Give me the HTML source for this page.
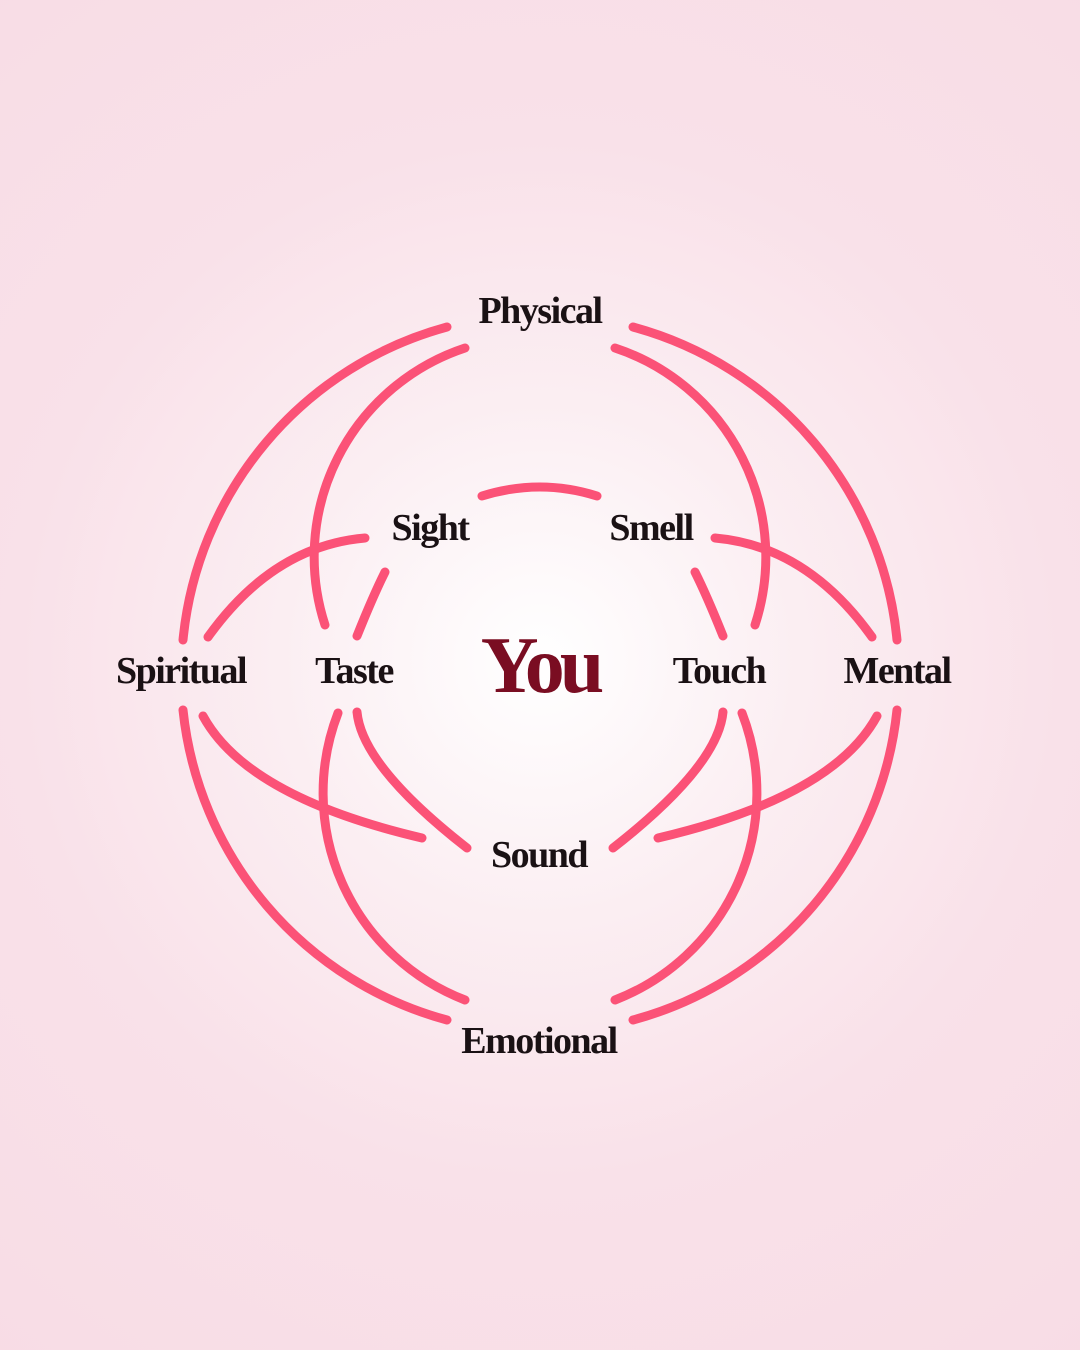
<!DOCTYPE html>
<html><head><meta charset="utf-8"><style>
html,body{margin:0;padding:0}
body{width:1080px;height:1350px;overflow:hidden;background:radial-gradient(circle at 540px 660px,#ffffff 0px,#fbeef2 260px,#f9e1e9 520px,#f8dce5 900px);}
svg{position:absolute;left:0;top:0}
text{font-family:"Liberation Serif",serif;font-weight:bold;fill:#1a1114;letter-spacing:-1.5px}
</style></head><body>
<svg width="1080" height="1350" viewBox="0 0 1080 1350">
<g fill="none" stroke="#fb5277" stroke-width="9" stroke-linecap="round">
<path d="M447 327 A360 360 0 0 0 183 640"/>
<path d="M183 710 A360 360 0 0 0 447 1020"/>
<path d="M633 327 A360 360 0 0 1 897 640"/>
<path d="M897 710 A360 360 0 0 1 633 1020"/>
<path d="M465 348 A220 220 0 0 0 325 625"/>
<path d="M615 348 A220 220 0 0 1 755 625"/>
<path d="M338 713 A222 222 0 0 0 465 1000"/>
<path d="M742 713 A222 222 0 0 1 615 1000"/>
<path d="M365 538 Q273 546 208 637"/>
<path d="M203 716 Q247 797 422 838"/>
<path d="M715 538 Q807 546 872 637"/>
<path d="M877 716 Q833 797 658 838"/>
<path d="M482 496 Q540 478 597 496"/>
<path d="M385 572 Q373 596 357 636"/>
<path d="M695 572 Q707 596 723 636"/>
<path d="M357 712 Q362 766 467 848"/>
<path d="M723 712 Q718 766 613 848"/>
</g>
<g font-size="38" text-anchor="middle">
<text x="540" y="323">Physical</text>
<text x="430" y="540">Sight</text>
<text x="651" y="540">Smell</text>
<text x="181" y="683">Spiritual</text>
<text x="354" y="683">Taste</text>
<text x="719" y="683">Touch</text>
<text x="897" y="683">Mental</text>
<text x="539" y="867">Sound</text>
<text x="539" y="1053">Emotional</text>
</g>
<text x="540" y="692" font-size="80" text-anchor="middle" style="fill:#7a0d22;letter-spacing:-5px">You</text>
</svg>
</body></html>
